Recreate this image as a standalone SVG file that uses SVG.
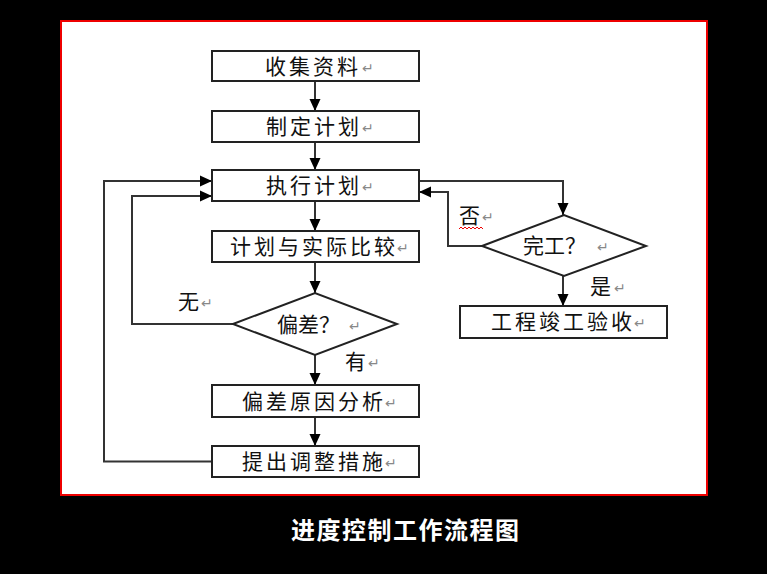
<svg xmlns="http://www.w3.org/2000/svg" width="767" height="574" viewBox="0 0 767 574">
<defs>
<style>
.box{fill:#fff;stroke:#222;stroke-width:2}
.t{font-family:"Liberation Sans","Noto Sans CJK SC",sans-serif;font-size:21px;fill:#111;dominant-baseline:central;letter-spacing:3px}
.lb{font-family:"Liberation Sans","Noto Sans CJK SC",sans-serif;font-size:21px;fill:#111;dominant-baseline:central}
.rt{font-family:"DejaVu Sans",sans-serif;font-size:14px;fill:#888;dominant-baseline:central}
.ln{fill:none;stroke:#333;stroke-width:2}
.title{font-family:"Noto Sans CJK SC",sans-serif;font-size:24px;fill:#fff;font-weight:bold;letter-spacing:1.5px;dominant-baseline:central}
</style>
<marker id="ah" viewBox="0 0 12 12" refX="12" refY="6" markerWidth="12" markerHeight="12" markerUnits="userSpaceOnUse" orient="auto">
<path d="M0,0.5 L12,6 L0,11.5 Z" fill="#000"/>
</marker>
</defs>
<rect x="0" y="0" width="767" height="574" fill="#000"/>
<rect x="61" y="21" width="646" height="474" fill="#fff" stroke="#e00" stroke-width="2"/>

<g id="connectors">
<path class="ln" d="M315,81 V111" marker-end="url(#ah)"/>
<path class="ln" d="M315,142 V170" marker-end="url(#ah)"/>
<path class="ln" d="M315,201 V231" marker-end="url(#ah)"/>
<path class="ln" d="M315,262 V293" marker-end="url(#ah)"/>
<path class="ln" d="M315,355 V385" marker-end="url(#ah)"/>
<path class="ln" d="M315,417 V446" marker-end="url(#ah)"/>
<path class="ln" d="M212,461.5 H104 V181 H212" marker-end="url(#ah)"/>
<path class="ln" d="M233,324 H132 V196 H212" marker-end="url(#ah)"/>
<path class="ln" d="M419,181 H563 V215" marker-end="url(#ah)"/>
<path class="ln" d="M482,246 H448 V192 H419" marker-end="url(#ah)"/>
<path class="ln" d="M563,276 V306" marker-end="url(#ah)"/>
</g>

<g id="n1"><rect class="box" x="212" y="51" width="207" height="30"/><text class="t" x="265" y="66">收集资料</text><text class="rt" x="362" y="68">↵</text></g>
<g id="n2"><rect class="box" x="212" y="111" width="207" height="31"/><text class="t" x="266" y="126">制定计划</text><text class="rt" x="362" y="128">↵</text></g>
<g id="n3"><rect class="box" x="212" y="170" width="207" height="31"/><text class="t" x="266" y="185.5">执行计划</text><text class="rt" x="362" y="187">↵</text></g>
<g id="n4"><rect class="box" x="212" y="231" width="207" height="31"/><text class="t" x="230" y="246.5">计划与实际比较</text><text class="rt" x="397" y="248">↵</text></g>
<g id="n5"><polygon class="box" points="233,324 315,293 397,324 315,355"/><text class="lb" x="277" y="324">偏差？</text><text class="rt" x="349" y="326">↵</text></g>
<g id="n6"><rect class="box" x="212" y="385" width="207" height="32"/><text class="t" x="242" y="401">偏差原因分析</text><text class="rt" x="385" y="403">↵</text></g>
<g id="n7"><rect class="box" x="212" y="446" width="207" height="31"/><text class="t" x="242" y="461.5">提出调整措施</text><text class="rt" x="385" y="463">↵</text></g>
<g id="n8"><polygon class="box" points="482,246 564,215 646,246 564,276"/><text class="lb" x="523" y="245">完工？</text><text class="rt" x="597" y="247">↵</text></g>
<g id="n9"><rect class="box" x="460" y="306" width="207" height="32"/><text class="t" x="491" y="321.5">工程竣工验收</text><text class="rt" x="634" y="323">↵</text></g>

<g id="labels">
<text class="lb" x="459" y="215">否</text><text class="rt" x="482" y="217">↵</text>
<path d="M459,229 l2,-2 l2,2 l2,-2 l2,2 l2,-2 l2,2 l2,-2 l2,2 l2,-2 l2,2 l2,-2 l2,2" fill="none" stroke="#e00" stroke-width="1"/>
<text class="lb" x="590" y="286">是</text><text class="rt" x="614" y="288">↵</text>
<text class="lb" x="178" y="301">无</text><text class="rt" x="201" y="303">↵</text>
<text class="lb" x="345" y="361">有</text><text class="rt" x="368" y="363">↵</text>
</g>

<text class="title" x="291" y="528">进度控制工作流程图</text>
</svg>
